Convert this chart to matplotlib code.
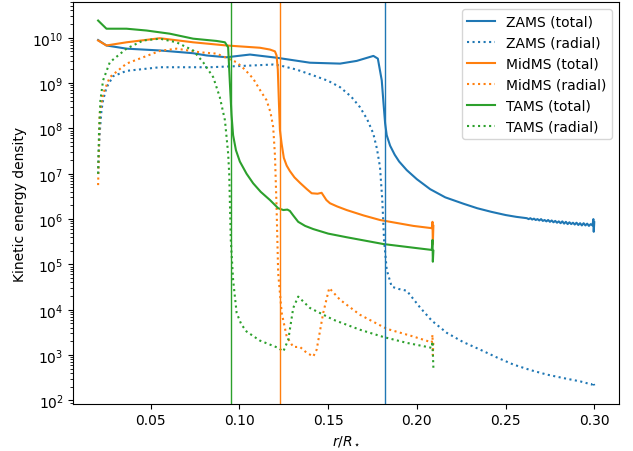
"""Kinetic energy density profiles (total vs radial) at ZAMS, MidMS and TAMS.

Values were read off the reference figure; y values are stored as log10.
Output: out.png
"""

import matplotlib.pyplot as plt
import numpy as np

# --- ZAMS -----------------------------------------------------------------
zams_tot_x = [0.0203, 0.0230, 0.0250, 0.0363, 0.0551, 0.0737, 0.0814, 0.0927,
              0.1059, 0.1209, 0.1397, 0.1567, 0.1661, 0.1755, 0.1780, 0.1802,
              0.1812, 0.1821, 0.1830, 0.1849, 0.1875, 0.1900, 0.1943, 0.2000,
              0.2075, 0.2160, 0.2262, 0.2340, 0.2420, 0.2500, 0.2560, 0.2600,
              0.2620, 0.2630, 0.2640, 0.2650, 0.2660, 0.2670, 0.2680, 0.2690,
              0.2700, 0.2710, 0.2720, 0.2730, 0.2740, 0.2750, 0.2760, 0.2770,
              0.2780, 0.2790, 0.2800, 0.2810, 0.2820, 0.2830, 0.2840, 0.2850,
              0.2860, 0.2870, 0.2880, 0.2890, 0.2900, 0.2910, 0.2920, 0.2930,
              0.2940, 0.2950, 0.2960, 0.2970, 0.2980, 0.2990, 0.2995, 0.2997,
              0.3000]
zams_tot_log = [9.95, 9.88, 9.83, 9.76, 9.72, 9.66, 9.61, 9.57,
                9.63, 9.56, 9.45, 9.43, 9.49, 9.60, 9.54, 9.06,
                8.55, 8.11, 7.85, 7.62, 7.42, 7.27, 7.08, 6.88,
                6.66, 6.48, 6.34, 6.24, 6.16, 6.09, 6.05, 6.03,
                6.02, 6.00, 6.02, 5.99, 6.01, 5.98, 6.00, 5.97,
                6.00, 5.96, 5.98, 5.95, 5.98, 5.94, 5.97, 5.93,
                5.96, 5.92, 5.95, 5.91, 5.95, 5.90, 5.94, 5.89,
                5.93, 5.89, 5.92, 5.88, 5.92, 5.87, 5.91, 5.86,
                5.91, 5.86, 5.90, 5.85, 5.89, 5.86, 6.00, 5.72,
                5.93]

zams_rad_x = [0.0203, 0.0207, 0.0212, 0.0222, 0.0231, 0.0250, 0.0287, 0.0363,
              0.0551, 0.0833, 0.1021, 0.1190, 0.1228, 0.1320, 0.1416, 0.1500,
              0.1567, 0.1630, 0.1679, 0.1720, 0.1754, 0.1775, 0.1792, 0.1805,
              0.1815, 0.1830, 0.1858, 0.1896, 0.1943, 0.2018, 0.2084, 0.2169,
              0.2260, 0.2357, 0.2450, 0.2545, 0.2640, 0.2733, 0.2830, 0.2921,
              0.2987, 0.2995, 0.3000]
zams_rad_log = [7.00, 7.50, 7.90, 8.40, 8.62, 8.90, 9.15, 9.27,
                9.35, 9.35, 9.38, 9.41, 9.39, 9.30, 9.17, 9.05,
                8.91, 8.70, 8.47, 8.20, 7.89, 7.55, 7.15, 6.42,
                5.54, 4.88, 4.51, 4.46, 4.42, 4.05, 3.76, 3.49,
                3.29, 3.12, 2.95, 2.79, 2.67, 2.57, 2.49, 2.42,
                2.35, 2.40, 2.33]

# --- MidMS ----------------------------------------------------------------
mid_tot_x = [0.0203, 0.0250, 0.0363, 0.0551, 0.0739, 0.0927, 0.1115, 0.1172,
             0.1200, 0.1209, 0.1216, 0.1222, 0.1228, 0.1238, 0.1250, 0.1266,
             0.1284, 0.1310, 0.1341, 0.1380, 0.1407, 0.1440, 0.1463, 0.1490,
             0.1510, 0.1550, 0.1604, 0.1700, 0.1792, 0.1980, 0.2084, 0.2088,
             0.2090, 0.2093]
mid_tot_log = [9.94, 9.83, 9.90, 9.99, 9.90, 9.83, 9.78, 9.74,
               9.70, 9.61, 9.30, 8.60, 7.96, 7.65, 7.35, 7.18,
               7.06, 6.92, 6.80, 6.66, 6.57, 6.56, 6.58, 6.42,
               6.35, 6.28, 6.20, 6.08, 5.98, 5.85, 5.80, 5.94,
               5.45, 5.85]

mid_rad_x = [0.0203, 0.0208, 0.0212, 0.0231, 0.0269, 0.0363, 0.0551, 0.0645,
             0.0777, 0.0871, 0.0984, 0.1030, 0.1077, 0.1120, 0.1153, 0.1175,
             0.1190, 0.1200, 0.1209, 0.1218, 0.1238, 0.1266, 0.1303, 0.1341,
             0.1379, 0.1416, 0.1435, 0.1472, 0.1506, 0.1567, 0.1679, 0.1830,
             0.1980, 0.2084, 0.2088, 0.2090, 0.2093]
mid_rad_log = [6.75, 7.60, 8.33, 8.77, 9.13, 9.43, 9.71, 9.76,
               9.68, 9.65, 9.46, 9.30, 9.10, 8.82, 8.62, 8.35,
               8.03, 7.40, 6.27, 4.81, 3.93, 3.41, 3.18, 3.18,
               3.05, 2.97, 3.12, 3.93, 4.48, 4.22, 3.89, 3.58,
               3.41, 3.28, 3.45, 3.00, 3.30]

# --- TAMS -----------------------------------------------------------------
tams_tot_x = [0.0203, 0.0250, 0.0363, 0.0476, 0.0607, 0.0739, 0.0871, 0.0918,
              0.0936, 0.0946, 0.0955, 0.0964, 0.0980, 0.1002, 0.1040, 0.1077,
              0.1120, 0.1172, 0.1218, 0.1247, 0.1270, 0.1284, 0.1303, 0.1331,
              0.1370, 0.1416, 0.1500, 0.1604, 0.1811, 0.1999, 0.2084, 0.2088,
              0.2090, 0.2093]
tams_tot_log = [10.38, 10.20, 10.20, 10.16, 10.09, 9.98, 9.93, 9.90,
                9.79, 8.99, 8.30, 7.85, 7.52, 7.27, 7.00, 6.79,
                6.60, 6.42, 6.24, 6.20, 6.21, 6.18, 6.08, 5.94,
                5.85, 5.78, 5.68, 5.60, 5.45, 5.36, 5.32, 5.54,
                5.06, 5.30]

tams_rad_x = [0.0203, 0.0208, 0.0216, 0.0231, 0.0269, 0.0363, 0.0457, 0.0551,
              0.0645, 0.0739, 0.0795, 0.0852, 0.0889, 0.0918, 0.0936, 0.0942,
              0.0951, 0.0964, 0.0984, 0.1010, 0.1040, 0.1115, 0.1218, 0.1247,
              0.1275, 0.1303, 0.1331, 0.1397, 0.1529, 0.1679, 0.1811, 0.1943,
              0.2084, 0.2088, 0.2093]
tams_rad_log = [7.00, 7.89, 8.62, 9.06, 9.46, 9.76, 9.94, 9.98,
                9.90, 9.72, 9.46, 9.13, 8.69, 8.18, 7.45, 7.01,
                5.54, 4.66, 3.93, 3.68, 3.52, 3.32, 3.16, 3.08,
                3.34, 4.04, 4.29, 4.04, 3.78, 3.56, 3.40, 3.27,
                3.16, 3.30, 2.72]

# convective boundary radius for each stage
boundary_r = [0.1818, 0.1226, 0.0950]

stages = [
    ("ZAMS", zams_tot_x, zams_tot_log, zams_rad_x, zams_rad_log),
    ("MidMS", mid_tot_x, mid_tot_log, mid_rad_x, mid_rad_log),
    ("TAMS", tams_tot_x, tams_tot_log, tams_rad_x, tams_rad_log),
]
colors = ["C0", "C1", "C2"]

# --- figure ---------------------------------------------------------------
fig, ax = plt.subplots(figsize=(6.33, 4.52), dpi=100)
fig.subplots_adjust(left=0.1158, right=0.978, bottom=0.1046, top=0.9927)

for (name, tx, ty, rx, ry), c in zip(stages, colors):
    ax.plot(tx, 10 ** np.array(ty), color=c, lw=1.5, label=f"{name} (total)")
    ax.plot(rx, 10 ** np.array(ry), color=c, lw=1.5, ls=":", label=f"{name} (radial)")

for r, c in zip(boundary_r, colors):
    ax.axvline(r, color=c, lw=1.0)

ax.set_yscale("log")
ax.set_xlabel(r"$r/R_\star$")
ax.set_ylabel("Kinetic energy density")
ax.legend(loc="upper right")

fig.savefig("out.png", dpi=100)
